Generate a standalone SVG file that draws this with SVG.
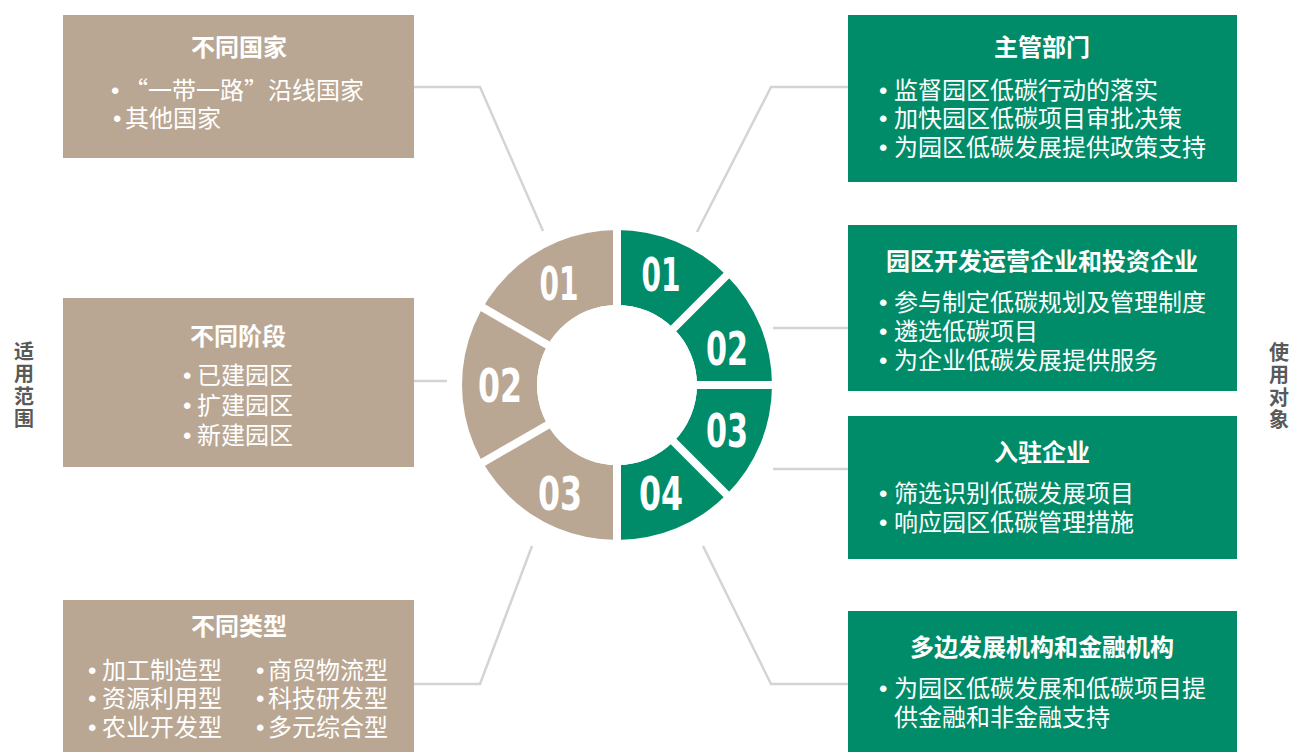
<svg xmlns="http://www.w3.org/2000/svg" width="1292" height="752" viewBox="0 0 1292 752">
<style>
.tan{fill:#BAA793}
.grn{fill:#018C69}
.ttl{font-family:"Noto Sans CJK SC","Microsoft YaHei",sans-serif;font-size:24px;font-weight:700;fill:#fff;text-anchor:middle}
.bul{font-family:"Noto Sans CJK SC","Microsoft YaHei",sans-serif;font-size:24px;fill:#fff}
.dot{font-family:"Liberation Sans",Arial,sans-serif}
.num{font-family:"Liberation Sans Narrow","DejaVu Sans Condensed","DejaVu Sans",sans-serif;font-size:47px;font-weight:700;fill:#fff;text-anchor:middle;font-stretch:condensed}
.side{font-family:"Noto Sans CJK SC","Microsoft YaHei",sans-serif;font-size:20px;font-weight:700;fill:#595959;writing-mode:vertical-rl;letter-spacing:2.5px}
.con{fill:none;stroke:#D4D4D4;stroke-width:2.5}
.gap{stroke:#fff;stroke-width:8;fill:none}
</style>
<g id="connectors">
<polyline class="con" points="414,87 480,87 543,231"/>
<line class="con" x1="414" y1="381" x2="447" y2="381"/>
<polyline class="con" points="532,546 480,684 414,684"/>
<polyline class="con" points="697,232 771,87 848,87"/>
<line class="con" x1="773" y1="328" x2="848" y2="328"/>
<line class="con" x1="773" y1="469" x2="848" y2="469"/>
<polyline class="con" points="703,546 771,684 848,684"/>
</g>
<g id="ring">
<path class="tan" d="M617,230 A155,155 0 0 0 617,540 L617,465 A80,80 0 0 1 617,305 Z"/>
<path class="grn" d="M617,230 A155,155 0 0 1 617,540 L617,465 A80,80 0 0 0 617,305 Z"/>
<line class="gap" x1="617" y1="385" x2="617" y2="220"/>
<line class="gap" x1="617" y1="385" x2="617" y2="550"/>
<line class="gap" x1="617" y1="385" x2="474" y2="302.5"/>
<line class="gap" x1="617" y1="385" x2="474" y2="467.5"/>
<line class="gap" x1="617" y1="385" x2="734" y2="268"/>
<line class="gap" x1="617" y1="385" x2="782" y2="385"/>
<line class="gap" x1="617" y1="385" x2="734" y2="502"/>
<circle cx="617" cy="385" r="80" fill="#fff"/>
<text class="num" x="559" y="300" textLength="39" lengthAdjust="spacingAndGlyphs">01</text>
<text class="num" x="500" y="402" textLength="44" lengthAdjust="spacingAndGlyphs">02</text>
<text class="num" x="560" y="510" textLength="44" lengthAdjust="spacingAndGlyphs">03</text>
<text class="num" x="661" y="291" textLength="39" lengthAdjust="spacingAndGlyphs">01</text>
<text class="num" x="727" y="365" textLength="42" lengthAdjust="spacingAndGlyphs">02</text>
<text class="num" x="727" y="447" textLength="42" lengthAdjust="spacingAndGlyphs">03</text>
<text class="num" x="661" y="510" textLength="44" lengthAdjust="spacingAndGlyphs">04</text>
</g>
<g id="scope-label">
<text class="side" x="24" y="341">适用范围</text>
</g>
<g id="users-label">
<text class="side" x="1279" y="342">使用对象</text>
</g>
<g id="box-countries">
<rect class="tan" x="63" y="15" width="351" height="143"/>
<text class="ttl" x="239" y="56">不同国家</text>
<text class="bul" y="99"><tspan class="dot" x="111">•</tspan><tspan x="124">“一带一路”沿线国家</tspan></text>
<text class="bul" y="127"><tspan class="dot" x="113">•</tspan><tspan x="125">其他国家</tspan></text>
</g>
<g id="box-stages">
<rect class="tan" x="63" y="298" width="351" height="169"/>
<text class="ttl" x="238" y="345">不同阶段</text>
<text class="bul" y="384"><tspan class="dot" x="183">•</tspan><tspan x="197">已建园区</tspan></text>
<text class="bul" y="414"><tspan class="dot" x="183">•</tspan><tspan x="197">扩建园区</tspan></text>
<text class="bul" y="444"><tspan class="dot" x="183">•</tspan><tspan x="197">新建园区</tspan></text>
</g>
<g id="box-types">
<rect class="tan" x="63" y="600" width="351" height="152"/>
<text class="ttl" x="239" y="635">不同类型</text>
<text class="bul" y="679"><tspan class="dot" x="88">•</tspan><tspan x="102">加工制造型</tspan></text>
<text class="bul" y="707"><tspan class="dot" x="88">•</tspan><tspan x="102">资源利用型</tspan></text>
<text class="bul" y="736"><tspan class="dot" x="88">•</tspan><tspan x="102">农业开发型</tspan></text>
<text class="bul" y="679"><tspan class="dot" x="256">•</tspan><tspan x="268">商贸物流型</tspan></text>
<text class="bul" y="707"><tspan class="dot" x="256">•</tspan><tspan x="268">科技研发型</tspan></text>
<text class="bul" y="736"><tspan class="dot" x="256">•</tspan><tspan x="268">多元综合型</tspan></text>
</g>
<g id="box-authority">
<rect class="grn" x="848" y="15" width="389" height="167"/>
<text class="ttl" x="1042" y="56">主管部门</text>
<text class="bul" y="99"><tspan class="dot" x="879">•</tspan><tspan x="894">监督园区低碳行动的落实</tspan></text>
<text class="bul" y="127"><tspan class="dot" x="879">•</tspan><tspan x="894">加快园区低碳项目审批决策</tspan></text>
<text class="bul" y="156"><tspan class="dot" x="879">•</tspan><tspan x="894">为园区低碳发展提供政策支持</tspan></text>
</g>
<g id="box-operators">
<rect class="grn" x="848" y="225" width="389" height="166"/>
<text class="ttl" x="1042" y="270">园区开发运营企业和投资企业</text>
<text class="bul" y="311"><tspan class="dot" x="879">•</tspan><tspan x="894">参与制定低碳规划及管理制度</tspan></text>
<text class="bul" y="340"><tspan class="dot" x="879">•</tspan><tspan x="894">遴选低碳项目</tspan></text>
<text class="bul" y="369"><tspan class="dot" x="879">•</tspan><tspan x="894">为企业低碳发展提供服务</tspan></text>
</g>
<g id="box-tenants">
<rect class="grn" x="848" y="416" width="389" height="143"/>
<text class="ttl" x="1042" y="461">入驻企业</text>
<text class="bul" y="502"><tspan class="dot" x="879">•</tspan><tspan x="894">筛选识别低碳发展项目</tspan></text>
<text class="bul" y="531"><tspan class="dot" x="879">•</tspan><tspan x="894">响应园区低碳管理措施</tspan></text>
</g>
<g id="box-finance">
<rect class="grn" x="848" y="611" width="389" height="141"/>
<text class="ttl" x="1042" y="656">多边发展机构和金融机构</text>
<text class="bul" y="697"><tspan class="dot" x="879">•</tspan><tspan x="894">为园区低碳发展和低碳项目提</tspan></text>
<text class="bul" x="894" y="726">供金融和非金融支持</text>
</g>
</svg>
